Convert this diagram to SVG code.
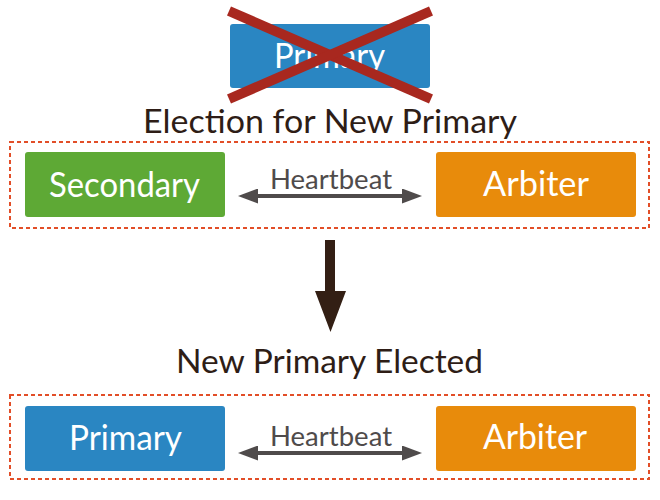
<svg xmlns="http://www.w3.org/2000/svg" width="660" height="500" viewBox="0 0 660 500">
  <style>
    .box { stroke: none; }
    .blue { fill: #2a86c2; }
    .green { fill: #5ea935; }
    .orange { fill: #e88b0b; }
    .lbl { font-family: Lato, "Open Sans", "Liberation Sans", sans-serif; font-size: 34px; fill: #ffffff; text-anchor: middle; }
    .title { font-family: Lato, "Open Sans", "Liberation Sans", sans-serif; font-size: 32px; fill: #2e1d16; text-anchor: middle; }
    .hb { font-family: Lato, "Open Sans", "Liberation Sans", sans-serif; font-size: 26px; fill: #4f4b4b; text-anchor: middle; }
    .group { fill: none; stroke: #e24e28; stroke-width: 2; stroke-dasharray: 4 3; }
    .hbline { stroke: #4f4b4b; stroke-width: 4; fill: none; marker-start: url(#hbhead); marker-end: url(#hbhead); }
    .cross { stroke: #a8281f; stroke-width: 10; stroke-linecap: butt; }
  </style>
  <defs>
    <marker id="hbhead" markerUnits="userSpaceOnUse" markerWidth="20" markerHeight="15" viewBox="0 0 20 15" refX="0" refY="7.5" orient="auto-start-reverse">
      <path d="M0,0 L20,7.5 L0,15 z" fill="#4f4b4b"/>
    </marker>
  </defs>
  <rect width="660" height="500" fill="#ffffff"/>

  <g id="old-primary">
    <rect class="box blue" x="230" y="24" width="200" height="64" rx="3"/>
    <text class="lbl" x="329.5" y="68" textLength="111" lengthAdjust="spacingAndGlyphs">Primary</text>
    <line class="cross" x1="229" y1="11" x2="431" y2="99"/>
    <line class="cross" x1="431" y1="11" x2="229" y2="99"/>
  </g>

  <g id="title-election">
    <text class="title" x="330" y="133" textLength="374" lengthAdjust="spacingAndGlyphs">Election for New Primary</text>
  </g>

  <g id="election-group">
    <rect class="group" x="10" y="142" width="639" height="86"/>
  </g>

  <g id="secondary">
    <rect class="box green" x="25" y="152" width="200" height="65" rx="3"/>
    <text class="lbl" x="124.5" y="197" textLength="151" lengthAdjust="spacingAndGlyphs">Secondary</text>
  </g>

  <g id="arbiter-1">
    <rect class="box orange" x="436" y="152" width="200" height="65" rx="3"/>
    <text class="lbl" x="536" y="196" textLength="106" lengthAdjust="spacingAndGlyphs">Arbiter</text>
  </g>

  <g id="title-elected">
    <text class="title" x="329.5" y="373" textLength="307" lengthAdjust="spacingAndGlyphs">New Primary Elected</text>
  </g>

  <g id="elected-group">
    <rect class="group" x="10" y="395" width="639" height="84"/>
  </g>

  <g id="new-primary">
    <rect class="box blue" x="25" y="406" width="200" height="65" rx="3"/>
    <text class="lbl" x="125.5" y="450" textLength="113" lengthAdjust="spacingAndGlyphs">Primary</text>
  </g>

  <g id="arbiter-2">
    <rect class="box orange" x="436" y="406" width="200" height="65" rx="3"/>
    <text class="lbl" x="535" y="449" textLength="104" lengthAdjust="spacingAndGlyphs">Arbiter</text>
  </g>

  <g id="connectors">
    <line class="hbline" x1="258" y1="196" x2="402" y2="196"/>
    <text class="hb" x="331" y="189" textLength="122" lengthAdjust="spacingAndGlyphs">Heartbeat</text>
    <path d="M325,240 L335,240 L335,291 L346,291 L330.5,332 L315,291 L325,291 z" fill="#331f14"/>
    <line class="hbline" x1="258" y1="453" x2="402" y2="453"/>
    <text class="hb" x="331" y="446" textLength="122" lengthAdjust="spacingAndGlyphs">Heartbeat</text>
  </g>
</svg>
